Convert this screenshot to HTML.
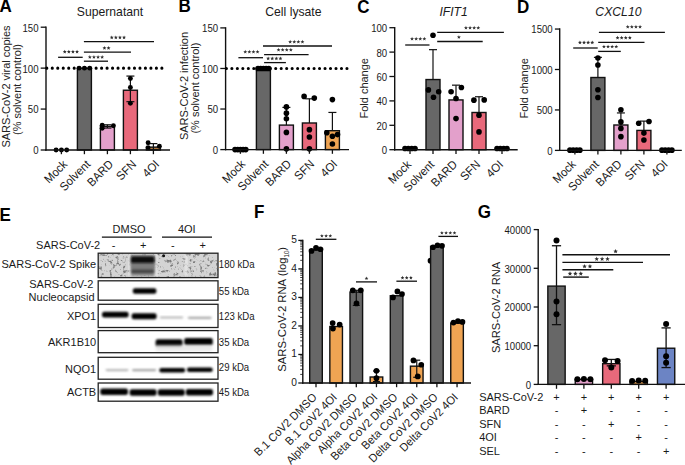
<!DOCTYPE html>
<html><head><meta charset="utf-8"><style>
html,body{margin:0;padding:0;background:#fff;}
body{width:685px;height:465px;overflow:hidden;}
svg{display:block;font-family:"Liberation Sans", sans-serif;}
</style></head><body>
<svg width="685" height="465" viewBox="0 0 685 465">
<defs>
<filter id="bl1" x="-20%" y="-80%" width="140%" height="260%"><feGaussianBlur stdDeviation="0.85"/></filter>
<filter id="bl2" x="-20%" y="-50%" width="140%" height="200%"><feGaussianBlur stdDeviation="1.5"/></filter>
<filter id="noise" x="0" y="0" width="100%" height="100%"><feTurbulence type="fractalNoise" baseFrequency="0.3" numOctaves="3" seed="11"/><feColorMatrix type="matrix" values="0 0 0 0 0  0 0 0 0 0  0 0 0 0 0  0 0 0 -4.5 2.1"/><feGaussianBlur stdDeviation="0.7"/><feComposite in2="SourceGraphic" operator="in"/></filter>
</defs>
<rect width="685" height="465" fill="#fff"/>
<line x1="46.00" y1="26.50" x2="46.00" y2="150.70" stroke="#111" stroke-width="1.4"/>
<line x1="40.70" y1="150.00" x2="46.00" y2="150.00" stroke="#111" stroke-width="1.3"/>
<text font-size="9.6" text-anchor="end" transform="translate(38.50 154.40) scale(1 1.05)" fill="#1a1a1a">0</text>
<line x1="40.70" y1="109.07" x2="46.00" y2="109.07" stroke="#111" stroke-width="1.3"/>
<text font-size="9.6" text-anchor="end" transform="translate(38.50 113.47) scale(1 1.05)" fill="#1a1a1a">50</text>
<line x1="40.70" y1="68.13" x2="46.00" y2="68.13" stroke="#111" stroke-width="1.3"/>
<text font-size="9.6" text-anchor="end" transform="translate(38.50 72.53) scale(1 1.05)" fill="#1a1a1a">100</text>
<line x1="40.70" y1="27.20" x2="46.00" y2="27.20" stroke="#111" stroke-width="1.3"/>
<text font-size="9.6" text-anchor="end" transform="translate(38.50 31.60) scale(1 1.05)" fill="#1a1a1a">150</text>
<rect x="77.40" y="68.13" width="14.00" height="81.87" fill="#676767" stroke="#111" stroke-width="1.4"/>
<rect x="100.40" y="126.42" width="14.00" height="23.58" fill="#E3A0CB" stroke="#111" stroke-width="1.4"/>
<rect x="123.40" y="90.24" width="14.00" height="59.76" fill="#E8697B" stroke="#111" stroke-width="1.4"/>
<rect x="146.40" y="147.13" width="14.00" height="2.87" fill="#A8743E" stroke="#111" stroke-width="1.4"/>
<line x1="46.8" y1="68.13" x2="163" y2="68.13" stroke="#000" stroke-width="3.1" stroke-linecap="round" stroke-dasharray="0 5.48"/>
<line x1="107.40" y1="128.06" x2="107.40" y2="124.79" stroke="#111" stroke-width="1.2"/>
<line x1="103.40" y1="124.79" x2="111.40" y2="124.79" stroke="#111" stroke-width="1.2"/>
<line x1="103.40" y1="128.06" x2="111.40" y2="128.06" stroke="#111" stroke-width="1.2"/>
<line x1="130.40" y1="101.70" x2="130.40" y2="76.07" stroke="#111" stroke-width="1.2"/>
<line x1="126.40" y1="76.07" x2="134.40" y2="76.07" stroke="#111" stroke-width="1.2"/>
<line x1="126.40" y1="101.70" x2="134.40" y2="101.70" stroke="#111" stroke-width="1.2"/>
<line x1="153.40" y1="149.59" x2="153.40" y2="143.61" stroke="#111" stroke-width="1.2"/>
<line x1="149.40" y1="143.61" x2="157.40" y2="143.61" stroke="#111" stroke-width="1.2"/>
<line x1="149.40" y1="149.59" x2="157.40" y2="149.59" stroke="#111" stroke-width="1.2"/>
<circle cx="56.10" cy="150.00" r="2.45" fill="#000"/>
<circle cx="61.40" cy="150.00" r="2.45" fill="#000"/>
<circle cx="66.70" cy="150.00" r="2.45" fill="#000"/>
<circle cx="79.10" cy="68.13" r="2.45" fill="#000"/>
<circle cx="84.40" cy="68.13" r="2.45" fill="#000"/>
<circle cx="89.70" cy="68.13" r="2.45" fill="#000"/>
<circle cx="102.20" cy="125.19" r="2.45" fill="#000"/>
<circle cx="102.20" cy="128.31" r="2.45" fill="#000"/>
<circle cx="113.40" cy="125.69" r="2.45" fill="#000"/>
<circle cx="130.40" cy="78.53" r="2.45" fill="#000"/>
<circle cx="130.40" cy="87.54" r="2.45" fill="#000"/>
<circle cx="130.40" cy="103.34" r="2.45" fill="#000"/>
<circle cx="148.10" cy="142.80" r="2.45" fill="#000"/>
<circle cx="148.10" cy="147.71" r="2.45" fill="#000"/>
<circle cx="159.40" cy="146.23" r="2.45" fill="#000"/>
<line x1="45.30" y1="150.00" x2="170.00" y2="150.00" stroke="#111" stroke-width="1.4"/>
<line x1="61.40" y1="150.00" x2="61.40" y2="154.20" stroke="#111" stroke-width="1.3"/>
<text font-size="11.3" text-anchor="end" transform="translate(68.10 165.00) rotate(-45) scale(1 1.05)" fill="#1a1a1a">Mock</text>
<line x1="84.40" y1="150.00" x2="84.40" y2="154.20" stroke="#111" stroke-width="1.3"/>
<text font-size="11.3" text-anchor="end" transform="translate(91.10 165.00) rotate(-45) scale(1 1.05)" fill="#1a1a1a">Solvent</text>
<line x1="107.40" y1="150.00" x2="107.40" y2="154.20" stroke="#111" stroke-width="1.3"/>
<text font-size="11.3" text-anchor="end" transform="translate(114.10 165.00) rotate(-45) scale(1 1.05)" fill="#1a1a1a">BARD</text>
<line x1="130.40" y1="150.00" x2="130.40" y2="154.20" stroke="#111" stroke-width="1.3"/>
<text font-size="11.3" text-anchor="end" transform="translate(137.10 165.00) rotate(-45) scale(1 1.05)" fill="#1a1a1a">SFN</text>
<line x1="153.40" y1="150.00" x2="153.40" y2="154.20" stroke="#111" stroke-width="1.3"/>
<text font-size="11.3" text-anchor="end" transform="translate(160.10 165.00) rotate(-45) scale(1 1.05)" fill="#1a1a1a">4OI</text>
<line x1="58.10" y1="57.30" x2="82.70" y2="57.30" stroke="#111" stroke-width="1.3"/>
<polygon points="64.75,49.70 65.28,51.02 66.70,51.12 65.61,52.03 65.95,53.41 64.75,52.65 63.55,53.41 63.89,52.03 62.80,51.12 64.22,51.02" fill="#2e2e2e"/>
<polygon points="68.85,49.70 69.38,51.02 70.80,51.12 69.71,52.03 70.05,53.41 68.85,52.65 67.65,53.41 67.99,52.03 66.90,51.12 68.32,51.02" fill="#2e2e2e"/>
<polygon points="72.95,49.70 73.48,51.02 74.90,51.12 73.81,52.03 74.15,53.41 72.95,52.65 71.75,53.41 72.09,52.03 71.00,51.12 72.42,51.02" fill="#2e2e2e"/>
<polygon points="77.05,49.70 77.58,51.02 79.00,51.12 77.91,52.03 78.25,53.41 77.05,52.65 75.85,53.41 76.19,52.03 75.10,51.12 76.52,51.02" fill="#2e2e2e"/>
<line x1="83.90" y1="61.20" x2="108.00" y2="61.20" stroke="#111" stroke-width="1.3"/>
<polygon points="89.85,55.10 90.38,56.42 91.80,56.52 90.71,57.43 91.05,58.81 89.85,58.05 88.65,58.81 88.99,57.43 87.90,56.52 89.32,56.42" fill="#2e2e2e"/>
<polygon points="93.95,55.10 94.48,56.42 95.90,56.52 94.81,57.43 95.15,58.81 93.95,58.05 92.75,58.81 93.09,57.43 92.00,56.52 93.42,56.42" fill="#2e2e2e"/>
<polygon points="98.05,55.10 98.58,56.42 100.00,56.52 98.91,57.43 99.25,58.81 98.05,58.05 96.85,58.81 97.19,57.43 96.10,56.52 97.52,56.42" fill="#2e2e2e"/>
<polygon points="102.15,55.10 102.68,56.42 104.10,56.52 103.01,57.43 103.35,58.81 102.15,58.05 100.95,58.81 101.29,57.43 100.20,56.52 101.62,56.42" fill="#2e2e2e"/>
<line x1="83.90" y1="52.20" x2="131.00" y2="52.20" stroke="#111" stroke-width="1.3"/>
<polygon points="104.45,46.05 104.98,47.37 106.40,47.47 105.31,48.38 105.65,49.76 104.45,49.00 103.25,49.76 103.59,48.38 102.50,47.47 103.92,47.37" fill="#2e2e2e"/>
<polygon points="108.55,46.05 109.08,47.37 110.50,47.47 109.41,48.38 109.75,49.76 108.55,49.00 107.35,49.76 107.69,48.38 106.60,47.47 108.02,47.37" fill="#2e2e2e"/>
<line x1="83.90" y1="41.70" x2="154.00" y2="41.70" stroke="#111" stroke-width="1.3"/>
<polygon points="111.75,35.45 112.28,36.77 113.70,36.87 112.61,37.78 112.95,39.16 111.75,38.40 110.55,39.16 110.89,37.78 109.80,36.87 111.22,36.77" fill="#2e2e2e"/>
<polygon points="115.85,35.45 116.38,36.77 117.80,36.87 116.71,37.78 117.05,39.16 115.85,38.40 114.65,39.16 114.99,37.78 113.90,36.87 115.32,36.77" fill="#2e2e2e"/>
<polygon points="119.95,35.45 120.48,36.77 121.90,36.87 120.81,37.78 121.15,39.16 119.95,38.40 118.75,39.16 119.09,37.78 118.00,36.87 119.42,36.77" fill="#2e2e2e"/>
<polygon points="124.05,35.45 124.58,36.77 126.00,36.87 124.91,37.78 125.25,39.16 124.05,38.40 122.85,39.16 123.19,37.78 122.10,36.87 123.52,36.77" fill="#2e2e2e"/>
<text font-size="12.2" text-anchor="middle" transform="translate(110.00 15.80) scale(1 1.05)" fill="#1a1a1a">Supernatant</text>
<text font-size="11" text-anchor="middle" transform="translate(9.60 86.50) rotate(-90) scale(1 1.05)" fill="#222">SARS-CoV-2 viral copies</text>
<text font-size="11" text-anchor="middle" transform="translate(20.60 89.50) rotate(-90) scale(1 1.05)" fill="#222">(% solvent control)</text>
<text font-size="17" text-anchor="start" font-weight="bold" transform="translate(-0.60 11.80) scale(1 1.05)" fill="#000">A</text>
<line x1="225.60" y1="27.20" x2="225.60" y2="150.30" stroke="#111" stroke-width="1.4"/>
<line x1="220.30" y1="149.60" x2="225.60" y2="149.60" stroke="#111" stroke-width="1.3"/>
<text font-size="9.6" text-anchor="end" transform="translate(218.10 154.00) scale(1 1.05)" fill="#1a1a1a">0</text>
<line x1="220.30" y1="109.03" x2="225.60" y2="109.03" stroke="#111" stroke-width="1.3"/>
<text font-size="9.6" text-anchor="end" transform="translate(218.10 113.43) scale(1 1.05)" fill="#1a1a1a">50</text>
<line x1="220.30" y1="68.47" x2="225.60" y2="68.47" stroke="#111" stroke-width="1.3"/>
<text font-size="9.6" text-anchor="end" transform="translate(218.10 72.87) scale(1 1.05)" fill="#1a1a1a">100</text>
<line x1="220.30" y1="27.90" x2="225.60" y2="27.90" stroke="#111" stroke-width="1.3"/>
<text font-size="9.6" text-anchor="end" transform="translate(218.10 32.30) scale(1 1.05)" fill="#1a1a1a">150</text>
<rect x="256.40" y="68.47" width="14.00" height="81.13" fill="#676767" stroke="#111" stroke-width="1.4"/>
<rect x="279.40" y="125.10" width="14.00" height="24.50" fill="#E3A0CB" stroke="#111" stroke-width="1.4"/>
<rect x="302.40" y="122.99" width="14.00" height="26.61" fill="#E8697B" stroke="#111" stroke-width="1.4"/>
<rect x="325.40" y="130.70" width="14.00" height="18.90" fill="#EFA453" stroke="#111" stroke-width="1.4"/>
<line x1="226.4" y1="68.47" x2="347" y2="68.47" stroke="#000" stroke-width="3.1" stroke-linecap="round" stroke-dasharray="0 5.48"/>
<line x1="286.40" y1="125.10" x2="286.40" y2="107.41" stroke="#111" stroke-width="1.2"/>
<line x1="282.40" y1="107.41" x2="290.40" y2="107.41" stroke="#111" stroke-width="1.2"/>
<line x1="309.40" y1="122.99" x2="309.40" y2="98.81" stroke="#111" stroke-width="1.2"/>
<line x1="305.40" y1="98.81" x2="313.40" y2="98.81" stroke="#111" stroke-width="1.2"/>
<line x1="332.40" y1="130.70" x2="332.40" y2="112.44" stroke="#111" stroke-width="1.2"/>
<line x1="328.40" y1="112.44" x2="336.40" y2="112.44" stroke="#111" stroke-width="1.2"/>
<circle cx="235.00" cy="149.60" r="2.8" fill="#000"/>
<circle cx="237.70" cy="149.60" r="2.8" fill="#000"/>
<circle cx="240.40" cy="149.60" r="2.8" fill="#000"/>
<circle cx="243.10" cy="149.60" r="2.8" fill="#000"/>
<circle cx="245.80" cy="149.60" r="2.8" fill="#000"/>
<circle cx="258.00" cy="68.47" r="2.8" fill="#000"/>
<circle cx="260.70" cy="68.47" r="2.8" fill="#000"/>
<circle cx="263.40" cy="68.47" r="2.8" fill="#000"/>
<circle cx="266.10" cy="68.47" r="2.8" fill="#000"/>
<circle cx="268.80" cy="68.47" r="2.8" fill="#000"/>
<circle cx="286.40" cy="106.92" r="2.8" fill="#000"/>
<circle cx="286.40" cy="113.17" r="2.8" fill="#000"/>
<circle cx="286.40" cy="118.77" r="2.8" fill="#000"/>
<circle cx="286.40" cy="132.40" r="2.8" fill="#000"/>
<circle cx="286.40" cy="148.87" r="2.8" fill="#000"/>
<circle cx="304.10" cy="96.38" r="2.8" fill="#000"/>
<circle cx="314.30" cy="98.08" r="2.8" fill="#000"/>
<circle cx="309.40" cy="129.64" r="2.8" fill="#000"/>
<circle cx="309.40" cy="136.94" r="2.8" fill="#000"/>
<circle cx="309.40" cy="148.87" r="2.8" fill="#000"/>
<circle cx="332.40" cy="99.62" r="2.8" fill="#000"/>
<circle cx="326.80" cy="132.81" r="2.8" fill="#000"/>
<circle cx="332.40" cy="136.29" r="2.8" fill="#000"/>
<circle cx="337.50" cy="134.59" r="2.8" fill="#000"/>
<circle cx="332.40" cy="144.00" r="2.8" fill="#000"/>
<line x1="224.90" y1="149.60" x2="349.00" y2="149.60" stroke="#111" stroke-width="1.4"/>
<line x1="240.40" y1="149.60" x2="240.40" y2="153.80" stroke="#111" stroke-width="1.3"/>
<text font-size="11.3" text-anchor="end" transform="translate(246.10 164.80) rotate(-45) scale(1 1.05)" fill="#1a1a1a">Mock</text>
<line x1="263.40" y1="149.60" x2="263.40" y2="153.80" stroke="#111" stroke-width="1.3"/>
<text font-size="11.3" text-anchor="end" transform="translate(269.10 164.80) rotate(-45) scale(1 1.05)" fill="#1a1a1a">Solvent</text>
<line x1="286.40" y1="149.60" x2="286.40" y2="153.80" stroke="#111" stroke-width="1.3"/>
<text font-size="11.3" text-anchor="end" transform="translate(292.10 164.80) rotate(-45) scale(1 1.05)" fill="#1a1a1a">BARD</text>
<line x1="309.40" y1="149.60" x2="309.40" y2="153.80" stroke="#111" stroke-width="1.3"/>
<text font-size="11.3" text-anchor="end" transform="translate(315.10 164.80) rotate(-45) scale(1 1.05)" fill="#1a1a1a">SFN</text>
<line x1="332.40" y1="149.60" x2="332.40" y2="153.80" stroke="#111" stroke-width="1.3"/>
<text font-size="11.3" text-anchor="end" transform="translate(338.10 164.80) rotate(-45) scale(1 1.05)" fill="#1a1a1a">4OI</text>
<line x1="238.40" y1="57.70" x2="263.00" y2="57.70" stroke="#111" stroke-width="1.3"/>
<polygon points="245.25,49.85 245.78,51.17 247.20,51.27 246.11,52.18 246.45,53.56 245.25,52.80 244.05,53.56 244.39,52.18 243.30,51.27 244.72,51.17" fill="#2e2e2e"/>
<polygon points="249.35,49.85 249.88,51.17 251.30,51.27 250.21,52.18 250.55,53.56 249.35,52.80 248.15,53.56 248.49,52.18 247.40,51.27 248.82,51.17" fill="#2e2e2e"/>
<polygon points="253.45,49.85 253.98,51.17 255.40,51.27 254.31,52.18 254.65,53.56 253.45,52.80 252.25,53.56 252.59,52.18 251.50,51.27 252.92,51.17" fill="#2e2e2e"/>
<polygon points="257.55,49.85 258.08,51.17 259.50,51.27 258.41,52.18 258.75,53.56 257.55,52.80 256.35,53.56 256.69,52.18 255.60,51.27 257.02,51.17" fill="#2e2e2e"/>
<line x1="264.10" y1="62.60" x2="285.90" y2="62.60" stroke="#111" stroke-width="1.3"/>
<polygon points="268.15,56.45 268.68,57.77 270.10,57.87 269.01,58.78 269.35,60.16 268.15,59.40 266.95,60.16 267.29,58.78 266.20,57.87 267.62,57.77" fill="#2e2e2e"/>
<polygon points="272.25,56.45 272.78,57.77 274.20,57.87 273.11,58.78 273.45,60.16 272.25,59.40 271.05,60.16 271.39,58.78 270.30,57.87 271.72,57.77" fill="#2e2e2e"/>
<polygon points="276.35,56.45 276.88,57.77 278.30,57.87 277.21,58.78 277.55,60.16 276.35,59.40 275.15,60.16 275.49,58.78 274.40,57.87 275.82,57.77" fill="#2e2e2e"/>
<polygon points="280.45,56.45 280.98,57.77 282.40,57.87 281.31,58.78 281.65,60.16 280.45,59.40 279.25,60.16 279.59,58.78 278.50,57.87 279.92,57.77" fill="#2e2e2e"/>
<line x1="264.10" y1="54.60" x2="308.60" y2="54.60" stroke="#111" stroke-width="1.3"/>
<polygon points="278.55,47.85 279.08,49.17 280.50,49.27 279.41,50.18 279.75,51.56 278.55,50.80 277.35,51.56 277.69,50.18 276.60,49.27 278.02,49.17" fill="#2e2e2e"/>
<polygon points="282.65,47.85 283.18,49.17 284.60,49.27 283.51,50.18 283.85,51.56 282.65,50.80 281.45,51.56 281.79,50.18 280.70,49.27 282.12,49.17" fill="#2e2e2e"/>
<polygon points="286.75,47.85 287.28,49.17 288.70,49.27 287.61,50.18 287.95,51.56 286.75,50.80 285.55,51.56 285.89,50.18 284.80,49.27 286.22,49.17" fill="#2e2e2e"/>
<polygon points="290.85,47.85 291.38,49.17 292.80,49.27 291.71,50.18 292.05,51.56 290.85,50.80 289.65,51.56 289.99,50.18 288.90,49.27 290.32,49.17" fill="#2e2e2e"/>
<line x1="263.00" y1="46.00" x2="332.00" y2="46.00" stroke="#111" stroke-width="1.3"/>
<polygon points="290.15,39.85 290.68,41.17 292.10,41.27 291.01,42.18 291.35,43.56 290.15,42.80 288.95,43.56 289.29,42.18 288.20,41.27 289.62,41.17" fill="#2e2e2e"/>
<polygon points="294.25,39.85 294.78,41.17 296.20,41.27 295.11,42.18 295.45,43.56 294.25,42.80 293.05,43.56 293.39,42.18 292.30,41.27 293.72,41.17" fill="#2e2e2e"/>
<polygon points="298.35,39.85 298.88,41.17 300.30,41.27 299.21,42.18 299.55,43.56 298.35,42.80 297.15,43.56 297.49,42.18 296.40,41.27 297.82,41.17" fill="#2e2e2e"/>
<polygon points="302.45,39.85 302.98,41.17 304.40,41.27 303.31,42.18 303.65,43.56 302.45,42.80 301.25,43.56 301.59,42.18 300.50,41.27 301.92,41.17" fill="#2e2e2e"/>
<text font-size="12.2" text-anchor="middle" transform="translate(293.40 15.80) scale(1 1.05)" fill="#1a1a1a">Cell lysate</text>
<text font-size="11" text-anchor="middle" transform="translate(188.20 86.00) rotate(-90) scale(1 1.05)" fill="#222">SARS-CoV-2 infection</text>
<text font-size="11" text-anchor="middle" transform="translate(199.30 88.10) rotate(-90) scale(1 1.05)" fill="#222">(% solvent control)</text>
<text font-size="17" text-anchor="start" font-weight="bold" transform="translate(178.40 11.80) scale(1 1.05)" fill="#000">B</text>
<line x1="394.70" y1="27.00" x2="394.70" y2="150.40" stroke="#111" stroke-width="1.4"/>
<line x1="389.40" y1="149.70" x2="394.70" y2="149.70" stroke="#111" stroke-width="1.3"/>
<text font-size="9.6" text-anchor="end" transform="translate(387.20 154.10) scale(1 1.05)" fill="#1a1a1a">0</text>
<line x1="389.40" y1="125.30" x2="394.70" y2="125.30" stroke="#111" stroke-width="1.3"/>
<text font-size="9.6" text-anchor="end" transform="translate(387.20 129.70) scale(1 1.05)" fill="#1a1a1a">20</text>
<line x1="389.40" y1="100.90" x2="394.70" y2="100.90" stroke="#111" stroke-width="1.3"/>
<text font-size="9.6" text-anchor="end" transform="translate(387.20 105.30) scale(1 1.05)" fill="#1a1a1a">40</text>
<line x1="389.40" y1="76.50" x2="394.70" y2="76.50" stroke="#111" stroke-width="1.3"/>
<text font-size="9.6" text-anchor="end" transform="translate(387.20 80.90) scale(1 1.05)" fill="#1a1a1a">60</text>
<line x1="389.40" y1="52.10" x2="394.70" y2="52.10" stroke="#111" stroke-width="1.3"/>
<text font-size="9.6" text-anchor="end" transform="translate(387.20 56.50) scale(1 1.05)" fill="#1a1a1a">80</text>
<line x1="389.40" y1="27.70" x2="394.70" y2="27.70" stroke="#111" stroke-width="1.3"/>
<text font-size="9.6" text-anchor="end" transform="translate(387.20 32.10) scale(1 1.05)" fill="#1a1a1a">100</text>
<rect x="426.00" y="79.55" width="14.00" height="70.15" fill="#676767" stroke="#111" stroke-width="1.4"/>
<rect x="449.00" y="99.92" width="14.00" height="49.78" fill="#E3A0CB" stroke="#111" stroke-width="1.4"/>
<rect x="472.00" y="112.49" width="14.00" height="37.21" fill="#E8697B" stroke="#111" stroke-width="1.4"/>
<line x1="433.00" y1="79.55" x2="433.00" y2="49.66" stroke="#111" stroke-width="1.2"/>
<line x1="429.00" y1="49.66" x2="437.00" y2="49.66" stroke="#111" stroke-width="1.2"/>
<line x1="456.00" y1="99.92" x2="456.00" y2="85.16" stroke="#111" stroke-width="1.2"/>
<line x1="452.00" y1="85.16" x2="460.00" y2="85.16" stroke="#111" stroke-width="1.2"/>
<line x1="479.00" y1="112.49" x2="479.00" y2="96.75" stroke="#111" stroke-width="1.2"/>
<line x1="475.00" y1="96.75" x2="483.00" y2="96.75" stroke="#111" stroke-width="1.2"/>
<circle cx="405.00" cy="148.48" r="2.8" fill="#000"/>
<circle cx="408.30" cy="148.48" r="2.8" fill="#000"/>
<circle cx="411.70" cy="148.48" r="2.8" fill="#000"/>
<circle cx="415.00" cy="148.48" r="2.8" fill="#000"/>
<circle cx="433.00" cy="35.26" r="2.8" fill="#000"/>
<circle cx="428.40" cy="89.92" r="2.8" fill="#000"/>
<circle cx="438.70" cy="91.75" r="2.8" fill="#000"/>
<circle cx="433.50" cy="97.24" r="2.8" fill="#000"/>
<circle cx="451.10" cy="91.75" r="2.8" fill="#000"/>
<circle cx="461.40" cy="87.48" r="2.8" fill="#000"/>
<circle cx="456.00" cy="98.46" r="2.8" fill="#000"/>
<circle cx="456.00" cy="118.59" r="2.8" fill="#000"/>
<circle cx="473.90" cy="100.17" r="2.8" fill="#000"/>
<circle cx="484.20" cy="99.92" r="2.8" fill="#000"/>
<circle cx="479.00" cy="115.17" r="2.8" fill="#000"/>
<circle cx="479.00" cy="131.89" r="2.8" fill="#000"/>
<circle cx="497.00" cy="148.48" r="2.8" fill="#000"/>
<circle cx="500.30" cy="148.48" r="2.8" fill="#000"/>
<circle cx="503.70" cy="148.48" r="2.8" fill="#000"/>
<circle cx="507.00" cy="148.48" r="2.8" fill="#000"/>
<line x1="394.00" y1="149.70" x2="517.70" y2="149.70" stroke="#111" stroke-width="1.4"/>
<line x1="410.00" y1="149.70" x2="410.00" y2="153.90" stroke="#111" stroke-width="1.3"/>
<text font-size="11.3" text-anchor="end" transform="translate(412.00 165.30) rotate(-45) scale(1 1.05)" fill="#1a1a1a">Mock</text>
<line x1="433.00" y1="149.70" x2="433.00" y2="153.90" stroke="#111" stroke-width="1.3"/>
<text font-size="11.3" text-anchor="end" transform="translate(435.00 165.30) rotate(-45) scale(1 1.05)" fill="#1a1a1a">Solvent</text>
<line x1="456.00" y1="149.70" x2="456.00" y2="153.90" stroke="#111" stroke-width="1.3"/>
<text font-size="11.3" text-anchor="end" transform="translate(458.00 165.30) rotate(-45) scale(1 1.05)" fill="#1a1a1a">BARD</text>
<line x1="479.00" y1="149.70" x2="479.00" y2="153.90" stroke="#111" stroke-width="1.3"/>
<text font-size="11.3" text-anchor="end" transform="translate(481.00 165.30) rotate(-45) scale(1 1.05)" fill="#1a1a1a">SFN</text>
<line x1="502.00" y1="149.70" x2="502.00" y2="153.90" stroke="#111" stroke-width="1.3"/>
<text font-size="11.3" text-anchor="end" transform="translate(504.00 165.30) rotate(-45) scale(1 1.05)" fill="#1a1a1a">4OI</text>
<line x1="405.20" y1="45.00" x2="429.50" y2="45.00" stroke="#111" stroke-width="1.3"/>
<polygon points="412.05,36.85 412.58,38.17 414.00,38.27 412.91,39.18 413.25,40.56 412.05,39.80 410.85,40.56 411.19,39.18 410.10,38.27 411.52,38.17" fill="#2e2e2e"/>
<polygon points="416.15,36.85 416.68,38.17 418.10,38.27 417.01,39.18 417.35,40.56 416.15,39.80 414.95,40.56 415.29,39.18 414.20,38.27 415.62,38.17" fill="#2e2e2e"/>
<polygon points="420.25,36.85 420.78,38.17 422.20,38.27 421.11,39.18 421.45,40.56 420.25,39.80 419.05,40.56 419.39,39.18 418.30,38.27 419.72,38.17" fill="#2e2e2e"/>
<polygon points="424.35,36.85 424.88,38.17 426.30,38.27 425.21,39.18 425.55,40.56 424.35,39.80 423.15,40.56 423.49,39.18 422.40,38.27 423.82,38.17" fill="#2e2e2e"/>
<line x1="437.20" y1="41.50" x2="482.70" y2="41.50" stroke="#111" stroke-width="1.3"/>
<polygon points="458.90,35.15 459.43,36.47 460.85,36.57 459.76,37.48 460.10,38.86 458.90,38.10 457.70,38.86 458.04,37.48 456.95,36.57 458.37,36.47" fill="#2e2e2e"/>
<line x1="437.20" y1="32.30" x2="503.90" y2="32.30" stroke="#111" stroke-width="1.3"/>
<polygon points="465.95,25.85 466.48,27.17 467.90,27.27 466.81,28.18 467.15,29.56 465.95,28.80 464.75,29.56 465.09,28.18 464.00,27.27 465.42,27.17" fill="#2e2e2e"/>
<polygon points="470.05,25.85 470.58,27.17 472.00,27.27 470.91,28.18 471.25,29.56 470.05,28.80 468.85,29.56 469.19,28.18 468.10,27.27 469.52,27.17" fill="#2e2e2e"/>
<polygon points="474.15,25.85 474.68,27.17 476.10,27.27 475.01,28.18 475.35,29.56 474.15,28.80 472.95,29.56 473.29,28.18 472.20,27.27 473.62,27.17" fill="#2e2e2e"/>
<polygon points="478.25,25.85 478.78,27.17 480.20,27.27 479.11,28.18 479.45,29.56 478.25,28.80 477.05,29.56 477.39,28.18 476.30,27.27 477.72,27.17" fill="#2e2e2e"/>
<text font-size="12.2" text-anchor="middle" font-style="italic" transform="translate(453.60 15.80) scale(1 1.05)" fill="#1a1a1a">IFIT1</text>
<text font-size="11" text-anchor="middle" transform="translate(367.60 88.30) rotate(-90) scale(1 1.05)" fill="#222">Fold change</text>
<text font-size="17" text-anchor="start" font-weight="bold" transform="translate(357.20 13.00) scale(1 1.05)" fill="#000">C</text>
<line x1="559.70" y1="28.35" x2="559.70" y2="151.10" stroke="#111" stroke-width="1.4"/>
<line x1="554.90" y1="150.40" x2="559.70" y2="150.40" stroke="#111" stroke-width="1.3"/>
<text font-size="9.6" text-anchor="end" transform="translate(552.70 154.80) scale(1 1.05)" fill="#1a1a1a">0</text>
<line x1="554.90" y1="109.95" x2="559.70" y2="109.95" stroke="#111" stroke-width="1.3"/>
<text font-size="9.6" text-anchor="end" transform="translate(552.70 114.35) scale(1 1.05)" fill="#1a1a1a">500</text>
<line x1="554.90" y1="69.50" x2="559.70" y2="69.50" stroke="#111" stroke-width="1.3"/>
<text font-size="9.6" text-anchor="end" transform="translate(552.70 73.90) scale(1 1.05)" fill="#1a1a1a">1000</text>
<line x1="554.90" y1="29.05" x2="559.70" y2="29.05" stroke="#111" stroke-width="1.3"/>
<text font-size="9.6" text-anchor="end" transform="translate(552.70 33.45) scale(1 1.05)" fill="#1a1a1a">1500</text>
<rect x="590.90" y="77.51" width="14.00" height="72.89" fill="#676767" stroke="#111" stroke-width="1.4"/>
<rect x="613.90" y="125.00" width="14.00" height="25.40" fill="#E3A0CB" stroke="#111" stroke-width="1.4"/>
<rect x="636.90" y="130.42" width="14.00" height="19.98" fill="#E8697B" stroke="#111" stroke-width="1.4"/>
<line x1="597.90" y1="77.51" x2="597.90" y2="57.37" stroke="#111" stroke-width="1.2"/>
<line x1="593.90" y1="57.37" x2="601.90" y2="57.37" stroke="#111" stroke-width="1.2"/>
<line x1="620.90" y1="125.00" x2="620.90" y2="112.94" stroke="#111" stroke-width="1.2"/>
<line x1="616.90" y1="112.94" x2="624.90" y2="112.94" stroke="#111" stroke-width="1.2"/>
<line x1="643.90" y1="130.42" x2="643.90" y2="121.11" stroke="#111" stroke-width="1.2"/>
<line x1="639.90" y1="121.11" x2="647.90" y2="121.11" stroke="#111" stroke-width="1.2"/>
<circle cx="569.90" cy="150.16" r="2.8" fill="#000"/>
<circle cx="573.20" cy="150.16" r="2.8" fill="#000"/>
<circle cx="576.60" cy="150.16" r="2.8" fill="#000"/>
<circle cx="579.90" cy="150.16" r="2.8" fill="#000"/>
<circle cx="597.90" cy="57.93" r="2.8" fill="#000"/>
<circle cx="597.90" cy="64.97" r="2.8" fill="#000"/>
<circle cx="597.90" cy="89.81" r="2.8" fill="#000"/>
<circle cx="597.90" cy="97.57" r="2.8" fill="#000"/>
<circle cx="620.90" cy="109.79" r="2.8" fill="#000"/>
<circle cx="620.90" cy="121.92" r="2.8" fill="#000"/>
<circle cx="620.90" cy="128.40" r="2.8" fill="#000"/>
<circle cx="620.90" cy="136.65" r="2.8" fill="#000"/>
<circle cx="638.70" cy="123.22" r="2.8" fill="#000"/>
<circle cx="649.00" cy="121.44" r="2.8" fill="#000"/>
<circle cx="643.90" cy="133.09" r="2.8" fill="#000"/>
<circle cx="643.90" cy="140.04" r="2.8" fill="#000"/>
<circle cx="661.90" cy="150.16" r="2.8" fill="#000"/>
<circle cx="665.20" cy="150.16" r="2.8" fill="#000"/>
<circle cx="668.60" cy="150.16" r="2.8" fill="#000"/>
<circle cx="671.90" cy="150.16" r="2.8" fill="#000"/>
<line x1="559.00" y1="150.40" x2="681.80" y2="150.40" stroke="#111" stroke-width="1.4"/>
<line x1="574.90" y1="150.40" x2="574.90" y2="154.60" stroke="#111" stroke-width="1.3"/>
<text font-size="11.3" text-anchor="end" transform="translate(576.60 165.00) rotate(-45) scale(1 1.05)" fill="#1a1a1a">Mock</text>
<line x1="597.90" y1="150.40" x2="597.90" y2="154.60" stroke="#111" stroke-width="1.3"/>
<text font-size="11.3" text-anchor="end" transform="translate(599.60 165.00) rotate(-45) scale(1 1.05)" fill="#1a1a1a">Solvent</text>
<line x1="620.90" y1="150.40" x2="620.90" y2="154.60" stroke="#111" stroke-width="1.3"/>
<text font-size="11.3" text-anchor="end" transform="translate(622.60 165.00) rotate(-45) scale(1 1.05)" fill="#1a1a1a">BARD</text>
<line x1="643.90" y1="150.40" x2="643.90" y2="154.60" stroke="#111" stroke-width="1.3"/>
<text font-size="11.3" text-anchor="end" transform="translate(645.60 165.00) rotate(-45) scale(1 1.05)" fill="#1a1a1a">SFN</text>
<line x1="666.90" y1="150.40" x2="666.90" y2="154.60" stroke="#111" stroke-width="1.3"/>
<text font-size="11.3" text-anchor="end" transform="translate(668.60 165.00) rotate(-45) scale(1 1.05)" fill="#1a1a1a">4OI</text>
<line x1="573.20" y1="48.00" x2="597.70" y2="48.00" stroke="#111" stroke-width="1.3"/>
<polygon points="579.95,40.55 580.48,41.87 581.90,41.97 580.81,42.88 581.15,44.26 579.95,43.50 578.75,44.26 579.09,42.88 578.00,41.97 579.42,41.87" fill="#2e2e2e"/>
<polygon points="584.05,40.55 584.58,41.87 586.00,41.97 584.91,42.88 585.25,44.26 584.05,43.50 582.85,44.26 583.19,42.88 582.10,41.97 583.52,41.87" fill="#2e2e2e"/>
<polygon points="588.15,40.55 588.68,41.87 590.10,41.97 589.01,42.88 589.35,44.26 588.15,43.50 586.95,44.26 587.29,42.88 586.20,41.97 587.62,41.87" fill="#2e2e2e"/>
<polygon points="592.25,40.55 592.78,41.87 594.20,41.97 593.11,42.88 593.45,44.26 592.25,43.50 591.05,44.26 591.39,42.88 590.30,41.97 591.72,41.87" fill="#2e2e2e"/>
<line x1="598.20" y1="51.40" x2="620.80" y2="51.40" stroke="#111" stroke-width="1.3"/>
<polygon points="603.95,44.65 604.48,45.97 605.90,46.07 604.81,46.98 605.15,48.36 603.95,47.60 602.75,48.36 603.09,46.98 602.00,46.07 603.42,45.97" fill="#2e2e2e"/>
<polygon points="608.05,44.65 608.58,45.97 610.00,46.07 608.91,46.98 609.25,48.36 608.05,47.60 606.85,48.36 607.19,46.98 606.10,46.07 607.52,45.97" fill="#2e2e2e"/>
<polygon points="612.15,44.65 612.68,45.97 614.10,46.07 613.01,46.98 613.35,48.36 612.15,47.60 610.95,48.36 611.29,46.98 610.20,46.07 611.62,45.97" fill="#2e2e2e"/>
<polygon points="616.25,44.65 616.78,45.97 618.20,46.07 617.11,46.98 617.45,48.36 616.25,47.60 615.05,48.36 615.39,46.98 614.30,46.07 615.72,45.97" fill="#2e2e2e"/>
<line x1="598.20" y1="42.30" x2="644.50" y2="42.30" stroke="#111" stroke-width="1.3"/>
<polygon points="617.55,35.75 618.08,37.07 619.50,37.17 618.41,38.08 618.75,39.46 617.55,38.70 616.35,39.46 616.69,38.08 615.60,37.17 617.02,37.07" fill="#2e2e2e"/>
<polygon points="621.65,35.75 622.18,37.07 623.60,37.17 622.51,38.08 622.85,39.46 621.65,38.70 620.45,39.46 620.79,38.08 619.70,37.17 621.12,37.07" fill="#2e2e2e"/>
<polygon points="625.75,35.75 626.28,37.07 627.70,37.17 626.61,38.08 626.95,39.46 625.75,38.70 624.55,39.46 624.89,38.08 623.80,37.17 625.22,37.07" fill="#2e2e2e"/>
<polygon points="629.85,35.75 630.38,37.07 631.80,37.17 630.71,38.08 631.05,39.46 629.85,38.70 628.65,39.46 628.99,38.08 627.90,37.17 629.32,37.07" fill="#2e2e2e"/>
<line x1="598.90" y1="32.40" x2="664.90" y2="32.40" stroke="#111" stroke-width="1.3"/>
<polygon points="627.75,24.85 628.28,26.17 629.70,26.27 628.61,27.18 628.95,28.56 627.75,27.80 626.55,28.56 626.89,27.18 625.80,26.27 627.22,26.17" fill="#2e2e2e"/>
<polygon points="631.85,24.85 632.38,26.17 633.80,26.27 632.71,27.18 633.05,28.56 631.85,27.80 630.65,28.56 630.99,27.18 629.90,26.27 631.32,26.17" fill="#2e2e2e"/>
<polygon points="635.95,24.85 636.48,26.17 637.90,26.27 636.81,27.18 637.15,28.56 635.95,27.80 634.75,28.56 635.09,27.18 634.00,26.27 635.42,26.17" fill="#2e2e2e"/>
<polygon points="640.05,24.85 640.58,26.17 642.00,26.27 640.91,27.18 641.25,28.56 640.05,27.80 638.85,28.56 639.19,27.18 638.10,26.27 639.52,26.17" fill="#2e2e2e"/>
<text font-size="12.2" text-anchor="middle" font-style="italic" transform="translate(618.40 15.80) scale(1 1.05)" fill="#1a1a1a">CXCL10</text>
<text font-size="11" text-anchor="middle" transform="translate(527.80 88.30) rotate(-90) scale(1 1.05)" fill="#222">Fold change</text>
<text font-size="17" text-anchor="start" font-weight="bold" transform="translate(516.90 12.90) scale(1 1.05)" fill="#000">D</text>
<text font-size="17" text-anchor="start" font-weight="bold" transform="translate(-0.60 220.80) scale(1 1.05)" fill="#000">E</text>
<text font-size="11" text-anchor="middle" transform="translate(129.05 233.00) scale(1 1.05)" fill="#1a1a1a">DMSO</text>
<text font-size="11" text-anchor="middle" transform="translate(186.80 233.00) scale(1 1.05)" fill="#1a1a1a">4OI</text>
<line x1="101.90" y1="237.10" x2="151.70" y2="237.10" stroke="#111" stroke-width="1.4"/>
<line x1="162.00" y1="237.10" x2="212.00" y2="237.10" stroke="#111" stroke-width="1.4"/>
<text font-size="11" text-anchor="end" transform="translate(100.20 248.70) scale(1 1.05)" fill="#1a1a1a">SARS-CoV-2</text>
<text font-size="11" text-anchor="middle" transform="translate(113.50 248.70) scale(1 1.05)" fill="#1a1a1a">-</text>
<text font-size="11" text-anchor="middle" transform="translate(143.10 248.70) scale(1 1.05)" fill="#1a1a1a">+</text>
<text font-size="11" text-anchor="middle" transform="translate(172.80 248.70) scale(1 1.05)" fill="#1a1a1a">-</text>
<text font-size="11" text-anchor="middle" transform="translate(202.80 248.70) scale(1 1.05)" fill="#1a1a1a">+</text>
<rect x="98.2" y="253.2" width="119.8" height="24.400000000000034" fill="#d4d4d4"/>
<rect x="98.2" y="253.2" width="119.8" height="24.400000000000034" fill="#000" filter="url(#noise)" opacity="0.42"/>
<rect x="128.8" y="254.2" width="2.2" height="22.400000000000034" fill="#ececec" filter="url(#bl1)"/>
<rect x="155.0" y="254.2" width="2.2" height="22.400000000000034" fill="#ececec" filter="url(#bl1)"/>
<rect x="185.2" y="254.2" width="2.2" height="22.400000000000034" fill="#ececec" filter="url(#bl1)"/>
<rect x="131" y="255" width="23.5" height="21.5" fill="#9a9a9a" filter="url(#bl1)"/>
<rect x="131" y="262" width="23.5" height="7.5" fill="#7c7c7c" filter="url(#bl1)"/>
<rect x="130.8" y="256.2" width="23.8" height="6.8" rx="1.5" fill="#0a0a0a" filter="url(#bl1)"/>
<rect x="131.2" y="269.2" width="23" height="4.2" rx="1.5" fill="#444" filter="url(#bl1)"/>
<circle cx="163.6" cy="255.8" r="1.5" fill="#111"/>
<rect x="132.8" y="288.3" width="23.6" height="5.4" rx="2.2" fill="#000" filter="url(#bl1)"/>
<rect x="102.0" y="311.8" width="26.6" height="5.6" rx="2.2" fill="#000" filter="url(#bl1)"/>
<rect x="131.6" y="313.3" width="25.0" height="6.0" rx="2.2" fill="#000" filter="url(#bl1)"/>
<rect x="159.5" y="316.6" width="24.0" height="2.0" rx="2.2" fill="#b5b5b5" filter="url(#bl1)"/>
<rect x="187.5" y="316.7" width="24.5" height="2.2" rx="2.2" fill="#a8a8a8" filter="url(#bl1)"/>
<rect x="155.6" y="339.3" width="27.0" height="7.2" rx="2.2" fill="#000" filter="url(#bl1)"/>
<rect x="184.2" y="337.9" width="28.6" height="7.4" rx="2.2" fill="#000" filter="url(#bl1)"/>
<rect x="156" y="345" width="56" height="6" fill="#e0e0e0" filter="url(#bl2)" opacity="0.7"/>
<rect x="105.3" y="369.0" width="23.5" height="2.2" rx="2.2" fill="#b8b8b8" filter="url(#bl1)"/>
<rect x="131.9" y="368.9" width="24.5" height="2.4" rx="2.2" fill="#a5a5a5" filter="url(#bl1)"/>
<rect x="159.3" y="368.0" width="25.9" height="4.4" rx="2.2" fill="#000" filter="url(#bl1)"/>
<rect x="186.9" y="367.5" width="25.9" height="4.4" rx="2.2" fill="#000" filter="url(#bl1)"/>
<rect x="100.3" y="388.4" width="27.7" height="6.6" rx="2.2" fill="#000" filter="url(#bl1)"/>
<rect x="129.6" y="389.3" width="27.0" height="6.4" rx="2.2" fill="#000" filter="url(#bl1)"/>
<rect x="157.8" y="389.3" width="27.0" height="6.4" rx="2.2" fill="#000" filter="url(#bl1)"/>
<rect x="185.8" y="388.9" width="27.2" height="6.6" rx="2.2" fill="#000" filter="url(#bl1)"/>
<rect x="98.2" y="253.2" width="119.8" height="24.400000000000034" fill="none" stroke="#222" stroke-width="1.3"/>
<rect x="98.2" y="280.8" width="119.8" height="19.399999999999977" fill="none" stroke="#222" stroke-width="1.3"/>
<rect x="98.2" y="304.3" width="119.8" height="23.19999999999999" fill="none" stroke="#222" stroke-width="1.3"/>
<rect x="98.2" y="330.6" width="119.8" height="22.099999999999966" fill="none" stroke="#222" stroke-width="1.3"/>
<rect x="98.2" y="357.3" width="119.8" height="21.899999999999977" fill="none" stroke="#222" stroke-width="1.3"/>
<rect x="98.2" y="383.0" width="119.8" height="18.19999999999999" fill="none" stroke="#222" stroke-width="1.3"/>
<text font-size="11" text-anchor="end" transform="translate(96.20 267.90) scale(1 1.05)" fill="#1a1a1a">SARS-CoV-2 Spike</text>
<text font-size="11" text-anchor="end" transform="translate(96.20 320.10) scale(1 1.05)" fill="#1a1a1a">XPO1</text>
<text font-size="11" text-anchor="end" transform="translate(96.20 346.10) scale(1 1.05)" fill="#1a1a1a">AKR1B10</text>
<text font-size="11" text-anchor="end" transform="translate(96.20 372.60) scale(1 1.05)" fill="#1a1a1a">NQO1</text>
<text font-size="11" text-anchor="end" transform="translate(96.20 395.80) scale(1 1.05)" fill="#1a1a1a">ACTB</text>
<text font-size="11" text-anchor="middle" transform="translate(61.30 288.00) scale(1 1.05)" fill="#1a1a1a">SARS-CoV-2</text>
<text font-size="11" text-anchor="middle" transform="translate(61.60 300.80) scale(1 1.05)" fill="#1a1a1a">Nucleocapsid</text>
<text font-size="9.6" text-anchor="start" transform="translate(218.80 267.90) scale(1 1.05)" fill="#1a1a1a">180 kDa</text>
<text font-size="9.6" text-anchor="start" transform="translate(218.80 294.50) scale(1 1.05)" fill="#1a1a1a">55 kDa</text>
<text font-size="9.6" text-anchor="start" transform="translate(218.80 320.30) scale(1 1.05)" fill="#1a1a1a">123 kDa</text>
<text font-size="9.6" text-anchor="start" transform="translate(218.80 345.80) scale(1 1.05)" fill="#1a1a1a">35 kDa</text>
<text font-size="9.6" text-anchor="start" transform="translate(218.80 371.10) scale(1 1.05)" fill="#1a1a1a">29 kDa</text>
<text font-size="9.6" text-anchor="start" transform="translate(218.80 396.10) scale(1 1.05)" fill="#1a1a1a">45 kDa</text>
<text font-size="17" text-anchor="start" font-weight="bold" transform="translate(254.00 218.00) scale(1 1.05)" fill="#000">F</text>
<line x1="302.80" y1="239.70" x2="302.80" y2="383.70" stroke="#111" stroke-width="1.4"/>
<line x1="300.20" y1="374.41" x2="302.80" y2="374.41" stroke="#111" stroke-width="0.8"/>
<line x1="300.20" y1="369.39" x2="302.80" y2="369.39" stroke="#111" stroke-width="0.8"/>
<line x1="300.20" y1="365.83" x2="302.80" y2="365.83" stroke="#111" stroke-width="0.8"/>
<line x1="300.20" y1="363.07" x2="302.80" y2="363.07" stroke="#111" stroke-width="0.8"/>
<line x1="300.20" y1="360.81" x2="302.80" y2="360.81" stroke="#111" stroke-width="0.8"/>
<line x1="300.20" y1="358.90" x2="302.80" y2="358.90" stroke="#111" stroke-width="0.8"/>
<line x1="300.20" y1="357.24" x2="302.80" y2="357.24" stroke="#111" stroke-width="0.8"/>
<line x1="300.20" y1="355.79" x2="302.80" y2="355.79" stroke="#111" stroke-width="0.8"/>
<line x1="300.20" y1="345.89" x2="302.80" y2="345.89" stroke="#111" stroke-width="0.8"/>
<line x1="300.20" y1="340.87" x2="302.80" y2="340.87" stroke="#111" stroke-width="0.8"/>
<line x1="300.20" y1="337.31" x2="302.80" y2="337.31" stroke="#111" stroke-width="0.8"/>
<line x1="300.20" y1="334.55" x2="302.80" y2="334.55" stroke="#111" stroke-width="0.8"/>
<line x1="300.20" y1="332.29" x2="302.80" y2="332.29" stroke="#111" stroke-width="0.8"/>
<line x1="300.20" y1="330.38" x2="302.80" y2="330.38" stroke="#111" stroke-width="0.8"/>
<line x1="300.20" y1="328.72" x2="302.80" y2="328.72" stroke="#111" stroke-width="0.8"/>
<line x1="300.20" y1="327.27" x2="302.80" y2="327.27" stroke="#111" stroke-width="0.8"/>
<line x1="300.20" y1="317.37" x2="302.80" y2="317.37" stroke="#111" stroke-width="0.8"/>
<line x1="300.20" y1="312.35" x2="302.80" y2="312.35" stroke="#111" stroke-width="0.8"/>
<line x1="300.20" y1="308.79" x2="302.80" y2="308.79" stroke="#111" stroke-width="0.8"/>
<line x1="300.20" y1="306.03" x2="302.80" y2="306.03" stroke="#111" stroke-width="0.8"/>
<line x1="300.20" y1="303.77" x2="302.80" y2="303.77" stroke="#111" stroke-width="0.8"/>
<line x1="300.20" y1="301.86" x2="302.80" y2="301.86" stroke="#111" stroke-width="0.8"/>
<line x1="300.20" y1="300.20" x2="302.80" y2="300.20" stroke="#111" stroke-width="0.8"/>
<line x1="300.20" y1="298.75" x2="302.80" y2="298.75" stroke="#111" stroke-width="0.8"/>
<line x1="300.20" y1="288.85" x2="302.80" y2="288.85" stroke="#111" stroke-width="0.8"/>
<line x1="300.20" y1="283.83" x2="302.80" y2="283.83" stroke="#111" stroke-width="0.8"/>
<line x1="300.20" y1="280.27" x2="302.80" y2="280.27" stroke="#111" stroke-width="0.8"/>
<line x1="300.20" y1="277.51" x2="302.80" y2="277.51" stroke="#111" stroke-width="0.8"/>
<line x1="300.20" y1="275.25" x2="302.80" y2="275.25" stroke="#111" stroke-width="0.8"/>
<line x1="300.20" y1="273.34" x2="302.80" y2="273.34" stroke="#111" stroke-width="0.8"/>
<line x1="300.20" y1="271.68" x2="302.80" y2="271.68" stroke="#111" stroke-width="0.8"/>
<line x1="300.20" y1="270.23" x2="302.80" y2="270.23" stroke="#111" stroke-width="0.8"/>
<line x1="300.20" y1="260.33" x2="302.80" y2="260.33" stroke="#111" stroke-width="0.8"/>
<line x1="300.20" y1="255.31" x2="302.80" y2="255.31" stroke="#111" stroke-width="0.8"/>
<line x1="300.20" y1="251.75" x2="302.80" y2="251.75" stroke="#111" stroke-width="0.8"/>
<line x1="300.20" y1="248.99" x2="302.80" y2="248.99" stroke="#111" stroke-width="0.8"/>
<line x1="300.20" y1="246.73" x2="302.80" y2="246.73" stroke="#111" stroke-width="0.8"/>
<line x1="300.20" y1="244.82" x2="302.80" y2="244.82" stroke="#111" stroke-width="0.8"/>
<line x1="300.20" y1="243.16" x2="302.80" y2="243.16" stroke="#111" stroke-width="0.8"/>
<line x1="300.20" y1="241.71" x2="302.80" y2="241.71" stroke="#111" stroke-width="0.8"/>
<line x1="298.30" y1="383.00" x2="302.80" y2="383.00" stroke="#111" stroke-width="1.3"/>
<text font-size="10.2" text-anchor="end" transform="translate(296.80 386.00) scale(1 1.05)" fill="#1a1a1a">0</text>
<line x1="298.30" y1="354.48" x2="302.80" y2="354.48" stroke="#111" stroke-width="1.3"/>
<text font-size="10.2" text-anchor="end" transform="translate(296.80 357.48) scale(1 1.05)" fill="#1a1a1a">1</text>
<line x1="298.30" y1="325.96" x2="302.80" y2="325.96" stroke="#111" stroke-width="1.3"/>
<text font-size="10.2" text-anchor="end" transform="translate(296.80 328.96) scale(1 1.05)" fill="#1a1a1a">2</text>
<line x1="298.30" y1="297.44" x2="302.80" y2="297.44" stroke="#111" stroke-width="1.3"/>
<text font-size="10.2" text-anchor="end" transform="translate(296.80 300.44) scale(1 1.05)" fill="#1a1a1a">3</text>
<line x1="298.30" y1="268.92" x2="302.80" y2="268.92" stroke="#111" stroke-width="1.3"/>
<text font-size="10.2" text-anchor="end" transform="translate(296.80 271.92) scale(1 1.05)" fill="#1a1a1a">4</text>
<line x1="298.30" y1="240.40" x2="302.80" y2="240.40" stroke="#111" stroke-width="1.3"/>
<text font-size="10.2" text-anchor="end" transform="translate(296.80 243.40) scale(1 1.05)" fill="#1a1a1a">5</text>
<circle cx="430.50" cy="260.65" r="2.85" fill="#000"/>
<rect x="309.70" y="250.10" width="12.60" height="132.90" fill="#676767" stroke="#111" stroke-width="1.4"/>
<rect x="329.85" y="326.53" width="12.60" height="56.47" fill="#EFA453" stroke="#111" stroke-width="1.4"/>
<rect x="350.00" y="292.02" width="12.60" height="90.98" fill="#676767" stroke="#111" stroke-width="1.4"/>
<rect x="370.15" y="377.01" width="12.60" height="5.99" fill="#EFA453" stroke="#111" stroke-width="1.4"/>
<rect x="390.30" y="295.73" width="12.60" height="87.27" fill="#676767" stroke="#111" stroke-width="1.4"/>
<rect x="410.45" y="366.17" width="12.60" height="16.83" fill="#EFA453" stroke="#111" stroke-width="1.4"/>
<rect x="430.60" y="246.39" width="12.60" height="136.61" fill="#676767" stroke="#111" stroke-width="1.4"/>
<rect x="450.75" y="323.11" width="12.60" height="59.89" fill="#EFA453" stroke="#111" stroke-width="1.4"/>
<line x1="356.30" y1="305.43" x2="356.30" y2="290.31" stroke="#111" stroke-width="1.2"/>
<line x1="352.80" y1="290.31" x2="359.80" y2="290.31" stroke="#111" stroke-width="1.2"/>
<line x1="352.80" y1="305.43" x2="359.80" y2="305.43" stroke="#111" stroke-width="1.2"/>
<line x1="376.45" y1="381.57" x2="376.45" y2="371.02" stroke="#111" stroke-width="1.2"/>
<line x1="372.95" y1="371.02" x2="379.95" y2="371.02" stroke="#111" stroke-width="1.2"/>
<line x1="372.95" y1="381.57" x2="379.95" y2="381.57" stroke="#111" stroke-width="1.2"/>
<line x1="416.75" y1="377.30" x2="416.75" y2="360.18" stroke="#111" stroke-width="1.2"/>
<line x1="413.25" y1="360.18" x2="420.25" y2="360.18" stroke="#111" stroke-width="1.2"/>
<line x1="413.25" y1="377.30" x2="420.25" y2="377.30" stroke="#111" stroke-width="1.2"/>
<circle cx="311.50" cy="250.95" r="2.85" fill="#000"/>
<circle cx="316.00" cy="247.82" r="2.85" fill="#000"/>
<circle cx="320.50" cy="249.24" r="2.85" fill="#000"/>
<circle cx="332.65" cy="323.11" r="2.85" fill="#000"/>
<circle cx="332.95" cy="328.53" r="2.85" fill="#000"/>
<circle cx="339.65" cy="324.53" r="2.85" fill="#000"/>
<circle cx="352.80" cy="290.31" r="2.85" fill="#000"/>
<circle cx="360.80" cy="290.31" r="2.85" fill="#000"/>
<circle cx="356.50" cy="303.43" r="2.85" fill="#000"/>
<circle cx="376.45" cy="370.74" r="2.85" fill="#000"/>
<circle cx="376.45" cy="378.15" r="2.85" fill="#000"/>
<circle cx="393.00" cy="297.44" r="2.85" fill="#000"/>
<circle cx="397.40" cy="291.45" r="2.85" fill="#000"/>
<circle cx="402.00" cy="294.02" r="2.85" fill="#000"/>
<circle cx="413.45" cy="360.47" r="2.85" fill="#000"/>
<circle cx="421.25" cy="364.75" r="2.85" fill="#000"/>
<circle cx="417.75" cy="376.44" r="2.85" fill="#000"/>
<circle cx="433.00" cy="247.24" r="2.85" fill="#000"/>
<circle cx="437.50" cy="245.25" r="2.85" fill="#000"/>
<circle cx="442.00" cy="245.82" r="2.85" fill="#000"/>
<circle cx="453.45" cy="322.54" r="2.85" fill="#000"/>
<circle cx="457.95" cy="321.11" r="2.85" fill="#000"/>
<circle cx="462.45" cy="321.97" r="2.85" fill="#000"/>
<line x1="302.10" y1="383.00" x2="471.00" y2="383.00" stroke="#111" stroke-width="1.4"/>
<line x1="316.00" y1="383.00" x2="316.00" y2="387.20" stroke="#111" stroke-width="1.3"/>
<text font-size="11" text-anchor="end" transform="translate(317.60 398.00) rotate(-45) scale(1 1.05)" fill="#1a1a1a">B.1 CoV2 DMSO</text>
<line x1="336.15" y1="383.00" x2="336.15" y2="387.20" stroke="#111" stroke-width="1.3"/>
<text font-size="11" text-anchor="end" transform="translate(337.75 398.00) rotate(-45) scale(1 1.05)" fill="#1a1a1a">B.1 CoV2 4OI</text>
<line x1="356.30" y1="383.00" x2="356.30" y2="387.20" stroke="#111" stroke-width="1.3"/>
<text font-size="11" text-anchor="end" transform="translate(357.90 398.00) rotate(-45) scale(1 1.05)" fill="#1a1a1a">Alpha CoV2 DMSO</text>
<line x1="376.45" y1="383.00" x2="376.45" y2="387.20" stroke="#111" stroke-width="1.3"/>
<text font-size="11" text-anchor="end" transform="translate(378.05 398.00) rotate(-45) scale(1 1.05)" fill="#1a1a1a">Alpha CoV2 4OI</text>
<line x1="396.60" y1="383.00" x2="396.60" y2="387.20" stroke="#111" stroke-width="1.3"/>
<text font-size="11" text-anchor="end" transform="translate(398.20 398.00) rotate(-45) scale(1 1.05)" fill="#1a1a1a">Beta CoV2 DMSO</text>
<line x1="416.75" y1="383.00" x2="416.75" y2="387.20" stroke="#111" stroke-width="1.3"/>
<text font-size="11" text-anchor="end" transform="translate(418.35 398.00) rotate(-45) scale(1 1.05)" fill="#1a1a1a">Beta CoV2 4OI</text>
<line x1="436.90" y1="383.00" x2="436.90" y2="387.20" stroke="#111" stroke-width="1.3"/>
<text font-size="11" text-anchor="end" transform="translate(438.50 398.00) rotate(-45) scale(1 1.05)" fill="#1a1a1a">Delta CoV2 DMSO</text>
<line x1="457.05" y1="383.00" x2="457.05" y2="387.20" stroke="#111" stroke-width="1.3"/>
<text font-size="11" text-anchor="end" transform="translate(458.65 398.00) rotate(-45) scale(1 1.05)" fill="#1a1a1a">Delta CoV2 4OI</text>
<line x1="315.80" y1="239.30" x2="336.40" y2="239.30" stroke="#111" stroke-width="1.3"/>
<polygon points="321.90,233.95 322.40,235.21 323.75,235.30 322.72,236.17 323.05,237.48 321.90,236.76 320.75,237.48 321.08,236.17 320.05,235.30 321.40,235.21" fill="#2e2e2e"/>
<polygon points="326.10,233.95 326.60,235.21 327.95,235.30 326.92,236.17 327.25,237.48 326.10,236.76 324.95,237.48 325.28,236.17 324.25,235.30 325.60,235.21" fill="#2e2e2e"/>
<polygon points="330.30,233.95 330.80,235.21 332.15,235.30 331.12,236.17 331.45,237.48 330.30,236.76 329.15,237.48 329.48,236.17 328.45,235.30 329.80,235.21" fill="#2e2e2e"/>
<line x1="356.00" y1="281.90" x2="377.00" y2="281.90" stroke="#111" stroke-width="1.3"/>
<polygon points="366.50,276.55 367.00,277.81 368.35,277.90 367.32,278.77 367.65,280.08 366.50,279.36 365.35,280.08 365.68,278.77 364.65,277.90 366.00,277.81" fill="#2e2e2e"/>
<line x1="396.40" y1="281.20" x2="417.00" y2="281.20" stroke="#111" stroke-width="1.3"/>
<polygon points="402.50,275.85 403.00,277.11 404.35,277.20 403.32,278.07 403.65,279.38 402.50,278.66 401.35,279.38 401.68,278.07 400.65,277.20 402.00,277.11" fill="#2e2e2e"/>
<polygon points="406.70,275.85 407.20,277.11 408.55,277.20 407.52,278.07 407.85,279.38 406.70,278.66 405.55,279.38 405.88,278.07 404.85,277.20 406.20,277.11" fill="#2e2e2e"/>
<polygon points="410.90,275.85 411.40,277.11 412.75,277.20 411.72,278.07 412.05,279.38 410.90,278.66 409.75,279.38 410.08,278.07 409.05,277.20 410.40,277.11" fill="#2e2e2e"/>
<line x1="438.40" y1="236.40" x2="458.00" y2="236.40" stroke="#111" stroke-width="1.3"/>
<polygon points="441.90,231.05 442.40,232.31 443.75,232.40 442.72,233.27 443.05,234.58 441.90,233.86 440.75,234.58 441.08,233.27 440.05,232.40 441.40,232.31" fill="#2e2e2e"/>
<polygon points="446.10,231.05 446.60,232.31 447.95,232.40 446.92,233.27 447.25,234.58 446.10,233.86 444.95,234.58 445.28,233.27 444.25,232.40 445.60,232.31" fill="#2e2e2e"/>
<polygon points="450.30,231.05 450.80,232.31 452.15,232.40 451.12,233.27 451.45,234.58 450.30,233.86 449.15,234.58 449.48,233.27 448.45,232.40 449.80,232.31" fill="#2e2e2e"/>
<polygon points="454.50,231.05 455.00,232.31 456.35,232.40 455.32,233.27 455.65,234.58 454.50,233.86 453.35,234.58 453.68,233.27 452.65,232.40 454.00,232.31" fill="#2e2e2e"/>
<text font-size="11.3" text-anchor="middle" transform="translate(286.4 309.3) rotate(-90) scale(1 1.04)" fill="#1a1a1a">SARS-CoV-2 RNA (log<tspan font-size="6.2" dy="2.8">10</tspan><tspan dy="-2.8">)</tspan></text>
<text font-size="17" text-anchor="start" font-weight="bold" transform="translate(477.80 218.00) scale(1 1.05)" fill="#000">G</text>
<line x1="538.20" y1="228.90" x2="538.20" y2="385.10" stroke="#111" stroke-width="1.4"/>
<line x1="533.70" y1="384.40" x2="538.20" y2="384.40" stroke="#111" stroke-width="1.3"/>
<text font-size="9.6" text-anchor="end" transform="translate(531.20 388.80) scale(1 1.05)" fill="#1a1a1a">0</text>
<line x1="533.70" y1="345.70" x2="538.20" y2="345.70" stroke="#111" stroke-width="1.3"/>
<text font-size="9.6" text-anchor="end" transform="translate(531.20 350.10) scale(1 1.05)" fill="#1a1a1a">10000</text>
<line x1="533.70" y1="307.00" x2="538.20" y2="307.00" stroke="#111" stroke-width="1.3"/>
<text font-size="9.6" text-anchor="end" transform="translate(531.20 311.40) scale(1 1.05)" fill="#1a1a1a">20000</text>
<line x1="533.70" y1="268.30" x2="538.20" y2="268.30" stroke="#111" stroke-width="1.3"/>
<text font-size="9.6" text-anchor="end" transform="translate(531.20 272.70) scale(1 1.05)" fill="#1a1a1a">30000</text>
<line x1="533.70" y1="229.60" x2="538.20" y2="229.60" stroke="#111" stroke-width="1.3"/>
<text font-size="9.6" text-anchor="end" transform="translate(531.20 234.00) scale(1 1.05)" fill="#1a1a1a">40000</text>
<rect x="547.85" y="286.10" width="17.30" height="98.30" fill="#676767" stroke="#111" stroke-width="1.4"/>
<rect x="575.25" y="379.37" width="17.30" height="5.03" fill="#E3A0CB" stroke="#111" stroke-width="1.4"/>
<rect x="602.65" y="363.70" width="17.30" height="20.70" fill="#E8697B" stroke="#111" stroke-width="1.4"/>
<rect x="630.05" y="381.50" width="17.30" height="2.90" fill="#EFA453" stroke="#111" stroke-width="1.4"/>
<rect x="657.45" y="348.22" width="17.30" height="36.18" fill="#6C84C4" stroke="#111" stroke-width="1.4"/>
<line x1="556.50" y1="324.65" x2="556.50" y2="245.74" stroke="#111" stroke-width="1.3"/>
<line x1="551.90" y1="245.74" x2="561.10" y2="245.74" stroke="#111" stroke-width="1.3"/>
<line x1="551.90" y1="324.65" x2="561.10" y2="324.65" stroke="#111" stroke-width="1.3"/>
<line x1="611.30" y1="365.86" x2="611.30" y2="359.44" stroke="#111" stroke-width="1.3"/>
<line x1="606.70" y1="359.44" x2="615.90" y2="359.44" stroke="#111" stroke-width="1.3"/>
<line x1="606.70" y1="365.86" x2="615.90" y2="365.86" stroke="#111" stroke-width="1.3"/>
<line x1="666.10" y1="367.57" x2="666.10" y2="327.90" stroke="#111" stroke-width="1.3"/>
<line x1="661.50" y1="327.90" x2="670.70" y2="327.90" stroke="#111" stroke-width="1.3"/>
<line x1="661.50" y1="367.57" x2="670.70" y2="367.57" stroke="#111" stroke-width="1.3"/>
<circle cx="556.50" cy="240.44" r="3.0" fill="#000"/>
<circle cx="556.50" cy="301.58" r="3.0" fill="#000"/>
<circle cx="556.50" cy="314.35" r="3.0" fill="#000"/>
<circle cx="577.40" cy="379.29" r="3.0" fill="#000"/>
<circle cx="583.90" cy="378.98" r="3.0" fill="#000"/>
<circle cx="590.40" cy="379.29" r="3.0" fill="#000"/>
<circle cx="605.00" cy="360.14" r="3.0" fill="#000"/>
<circle cx="617.60" cy="360.95" r="3.0" fill="#000"/>
<circle cx="611.30" cy="367.57" r="3.0" fill="#000"/>
<circle cx="632.10" cy="380.92" r="3.0" fill="#000"/>
<circle cx="638.70" cy="380.53" r="3.0" fill="#000"/>
<circle cx="645.20" cy="380.68" r="3.0" fill="#000"/>
<circle cx="666.10" cy="324.03" r="3.0" fill="#000"/>
<circle cx="666.10" cy="356.34" r="3.0" fill="#000"/>
<circle cx="666.10" cy="362.65" r="3.0" fill="#000"/>
<line x1="537.50" y1="384.40" x2="685.00" y2="384.40" stroke="#111" stroke-width="1.4"/>
<line x1="556.50" y1="384.40" x2="556.50" y2="388.80" stroke="#111" stroke-width="1.3"/>
<line x1="583.90" y1="384.40" x2="583.90" y2="388.80" stroke="#111" stroke-width="1.3"/>
<line x1="611.30" y1="384.40" x2="611.30" y2="388.80" stroke="#111" stroke-width="1.3"/>
<line x1="638.70" y1="384.40" x2="638.70" y2="388.80" stroke="#111" stroke-width="1.3"/>
<line x1="666.10" y1="384.40" x2="666.10" y2="388.80" stroke="#111" stroke-width="1.3"/>
<line x1="562.40" y1="254.80" x2="670.00" y2="254.80" stroke="#111" stroke-width="1.4"/>
<polygon points="615.60,249.00 616.22,250.55 617.88,250.66 616.60,251.73 617.01,253.34 615.60,252.46 614.19,253.34 614.60,251.73 613.32,250.66 614.98,250.55" fill="#2e2e2e"/>
<line x1="562.40" y1="262.40" x2="643.00" y2="262.40" stroke="#111" stroke-width="1.4"/>
<polygon points="596.70,256.60 597.32,258.15 598.98,258.26 597.70,259.33 598.11,260.94 596.70,260.06 595.29,260.94 595.70,259.33 594.42,258.26 596.08,258.15" fill="#2e2e2e"/>
<polygon points="602.10,256.60 602.72,258.15 604.38,258.26 603.10,259.33 603.51,260.94 602.10,260.06 600.69,260.94 601.10,259.33 599.82,258.26 601.48,258.15" fill="#2e2e2e"/>
<polygon points="607.50,256.60 608.12,258.15 609.78,258.26 608.50,259.33 608.91,260.94 607.50,260.06 606.09,260.94 606.50,259.33 605.22,258.26 606.88,258.15" fill="#2e2e2e"/>
<line x1="562.40" y1="269.80" x2="613.30" y2="269.80" stroke="#111" stroke-width="1.4"/>
<polygon points="584.55,264.00 585.17,265.55 586.83,265.66 585.55,266.73 585.96,268.34 584.55,267.46 583.14,268.34 583.55,266.73 582.27,265.66 583.93,265.55" fill="#2e2e2e"/>
<polygon points="589.95,264.00 590.57,265.55 592.23,265.66 590.95,266.73 591.36,268.34 589.95,267.46 588.54,268.34 588.95,266.73 587.67,265.66 589.33,265.55" fill="#2e2e2e"/>
<line x1="563.20" y1="277.10" x2="588.80" y2="277.10" stroke="#111" stroke-width="1.4"/>
<polygon points="570.00,271.30 570.62,272.85 572.28,272.96 571.00,274.03 571.41,275.64 570.00,274.76 568.59,275.64 569.00,274.03 567.72,272.96 569.38,272.85" fill="#2e2e2e"/>
<polygon points="575.40,271.30 576.02,272.85 577.68,272.96 576.40,274.03 576.81,275.64 575.40,274.76 573.99,275.64 574.40,274.03 573.12,272.96 574.78,272.85" fill="#2e2e2e"/>
<polygon points="580.80,271.30 581.42,272.85 583.08,272.96 581.80,274.03 582.21,275.64 580.80,274.76 579.39,275.64 579.80,274.03 578.52,272.96 580.18,272.85" fill="#2e2e2e"/>
<text font-size="11.1" text-anchor="middle" transform="translate(500.20 307.40) rotate(-90) scale(1 1.05)" fill="#1a1a1a">SARS-CoV-2 RNA</text>
<text font-size="11" text-anchor="start" transform="translate(479.20 400.60) scale(1 1.05)" fill="#1a1a1a">SARS-CoV-2</text>
<text font-size="11" text-anchor="middle" transform="translate(556.50 400.60) scale(1 1.05)" fill="#1a1a1a">+</text>
<text font-size="11" text-anchor="middle" transform="translate(583.90 400.60) scale(1 1.05)" fill="#1a1a1a">+</text>
<text font-size="11" text-anchor="middle" transform="translate(611.30 400.60) scale(1 1.05)" fill="#1a1a1a">+</text>
<text font-size="11" text-anchor="middle" transform="translate(638.70 400.60) scale(1 1.05)" fill="#1a1a1a">+</text>
<text font-size="11" text-anchor="middle" transform="translate(666.10 400.60) scale(1 1.05)" fill="#1a1a1a">+</text>
<text font-size="11" text-anchor="start" transform="translate(479.20 414.00) scale(1 1.05)" fill="#1a1a1a">BARD</text>
<text font-size="11" text-anchor="middle" transform="translate(556.50 414.00) scale(1 1.05)" fill="#1a1a1a">-</text>
<text font-size="11" text-anchor="middle" transform="translate(583.90 414.00) scale(1 1.05)" fill="#1a1a1a">+</text>
<text font-size="11" text-anchor="middle" transform="translate(611.30 414.00) scale(1 1.05)" fill="#1a1a1a">-</text>
<text font-size="11" text-anchor="middle" transform="translate(638.70 414.00) scale(1 1.05)" fill="#1a1a1a">-</text>
<text font-size="11" text-anchor="middle" transform="translate(666.10 414.00) scale(1 1.05)" fill="#1a1a1a">-</text>
<text font-size="11" text-anchor="start" transform="translate(479.20 427.50) scale(1 1.05)" fill="#1a1a1a">SFN</text>
<text font-size="11" text-anchor="middle" transform="translate(556.50 427.50) scale(1 1.05)" fill="#1a1a1a">-</text>
<text font-size="11" text-anchor="middle" transform="translate(583.90 427.50) scale(1 1.05)" fill="#1a1a1a">-</text>
<text font-size="11" text-anchor="middle" transform="translate(611.30 427.50) scale(1 1.05)" fill="#1a1a1a">+</text>
<text font-size="11" text-anchor="middle" transform="translate(638.70 427.50) scale(1 1.05)" fill="#1a1a1a">-</text>
<text font-size="11" text-anchor="middle" transform="translate(666.10 427.50) scale(1 1.05)" fill="#1a1a1a">-</text>
<text font-size="11" text-anchor="start" transform="translate(479.20 441.00) scale(1 1.05)" fill="#1a1a1a">4OI</text>
<text font-size="11" text-anchor="middle" transform="translate(556.50 441.00) scale(1 1.05)" fill="#1a1a1a">-</text>
<text font-size="11" text-anchor="middle" transform="translate(583.90 441.00) scale(1 1.05)" fill="#1a1a1a">-</text>
<text font-size="11" text-anchor="middle" transform="translate(611.30 441.00) scale(1 1.05)" fill="#1a1a1a">-</text>
<text font-size="11" text-anchor="middle" transform="translate(638.70 441.00) scale(1 1.05)" fill="#1a1a1a">+</text>
<text font-size="11" text-anchor="middle" transform="translate(666.10 441.00) scale(1 1.05)" fill="#1a1a1a">-</text>
<text font-size="11" text-anchor="start" transform="translate(479.20 454.50) scale(1 1.05)" fill="#1a1a1a">SEL</text>
<text font-size="11" text-anchor="middle" transform="translate(556.50 454.50) scale(1 1.05)" fill="#1a1a1a">-</text>
<text font-size="11" text-anchor="middle" transform="translate(583.90 454.50) scale(1 1.05)" fill="#1a1a1a">-</text>
<text font-size="11" text-anchor="middle" transform="translate(611.30 454.50) scale(1 1.05)" fill="#1a1a1a">-</text>
<text font-size="11" text-anchor="middle" transform="translate(638.70 454.50) scale(1 1.05)" fill="#1a1a1a">-</text>
<text font-size="11" text-anchor="middle" transform="translate(666.10 454.50) scale(1 1.05)" fill="#1a1a1a">+</text>
</svg>
</body></html>
